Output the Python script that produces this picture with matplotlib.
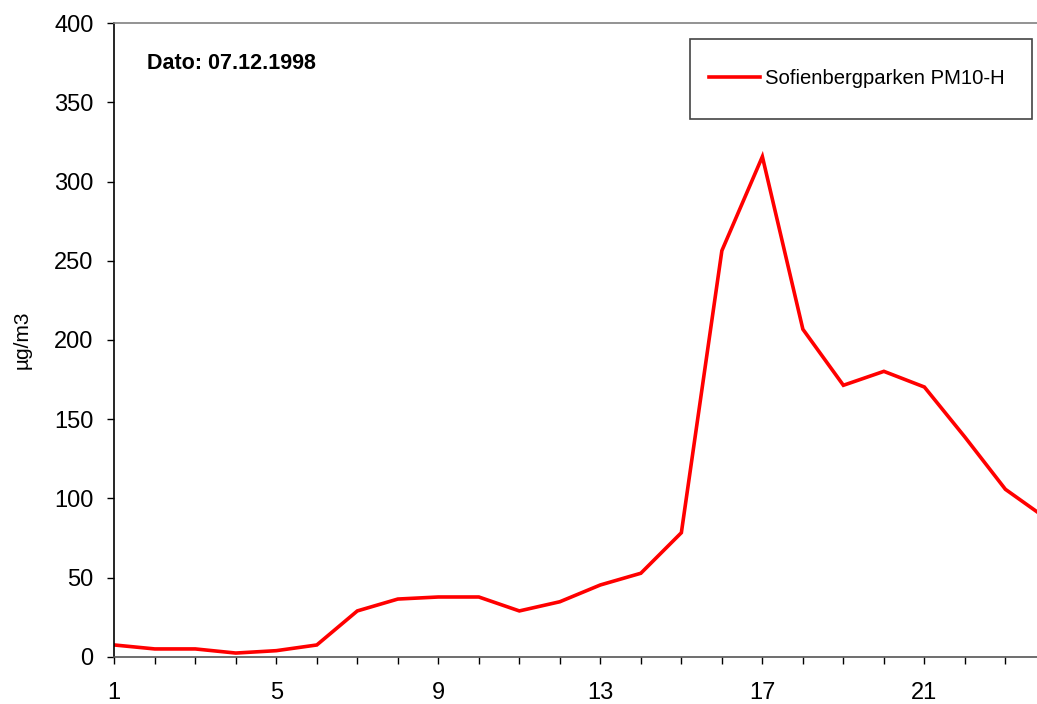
import numpy as np
import matplotlib
matplotlib.use("Agg")
import matplotlib.pyplot as plt
from matplotlib.patches import Rectangle
from matplotlib.ticker import MultipleLocator

plt.rcParams['font.family'] = ['Liberation Sans', 'DejaVu Sans']

# hourly PM10 values
hours = list(range(1, 25))
pm10 = [7.4, 4.9, 4.9, 2.3, 3.8, 7.4, 28.9, 36.4, 37.7, 37.7, 28.9, 34.7,
        45.3, 52.7, 78.3, 256.4, 315.8, 206.8, 171.4, 180.2, 170.3, 138.7,
        105.7, 87.5]
series_name = 'Sofienbergparken PM10-H'
date_label = 'Dato: 07.12.1998'
x_ticks = [1, 5, 9, 13, 17, 21]

W, H = 1037, 704
fig = plt.figure(figsize=(W / 100, H / 100), dpi=100)
ax = fig.add_axes([0.1102, 0.0672, 0.8898, 0.8997])

ax.plot(hours, pm10, color='#ff0000', linewidth=2.6, label=series_name,
        solid_joinstyle='miter')

ax.set_xlim(1, 23.78)
ax.set_ylim(0, 400)
ax.set_xticks(x_ticks)
ax.xaxis.set_minor_locator(MultipleLocator(1))
ax.yaxis.set_major_locator(MultipleLocator(50))

ax.tick_params(axis='both', which='both', direction='out', length=5,
               width=1, colors='black', labelsize=17)
ax.tick_params(axis='x', which='major', pad=13)
ax.tick_params(axis='y', which='major', pad=10)

ax.spines['left'].set_color('black')
ax.spines['bottom'].set_color('#555555')
ax.spines['top'].set_color('#808080')
ax.spines['right'].set_visible(False)
for s in ax.spines.values():
    s.set_linewidth(1.2)

ax.set_ylabel('µg/m3', fontsize=15, labelpad=16)

ax.text(0.036, 0.936, date_label, transform=ax.transAxes, fontsize=15.5,
        fontweight='bold', ha='left', va='center')

# legend box drawn separately so it can be taller than the entry
box = Rectangle((690 / W, 1 - 119 / H), 342 / W, 80 / H, transform=fig.transFigure,
                facecolor='white', edgecolor='#444444', linewidth=1.2, zorder=4)
fig.add_artist(box)
leg = fig.legend(loc='center left', bbox_to_anchor=(709 / W, 1 - 79 / H),
                 borderaxespad=0, borderpad=0, fontsize=14.6, handlelength=2.5,
                 handletextpad=0.25, frameon=False)
leg.set_zorder(5)

fig.savefig('out.png', dpi=100)
